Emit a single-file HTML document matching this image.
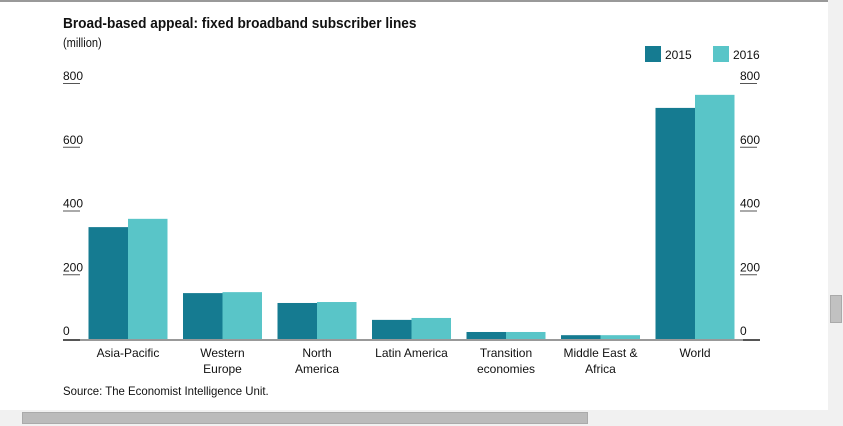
<!DOCTYPE html>
<html><head><meta charset="utf-8"><style>
body{margin:0;width:843px;height:426px;overflow:hidden;background:#fff;font-family:"Liberation Sans Narrow","Liberation Sans",sans-serif;position:relative}
.t{position:absolute;white-space:nowrap;color:#111;transform-origin:0 0}
</style></head><body>
<div style="position:absolute;left:0;top:0;width:828px;height:2px;background:#999"></div>
<div style="position:absolute;left:828px;top:0;width:15px;height:426px;background:#f1f1f1"><div style="position:absolute;left:2px;top:295px;width:10px;height:26px;background:#c1c1c1;border:1px solid #aaa"></div></div>
<div style="position:absolute;left:0;top:410px;width:828px;height:16px;background:#f1f1f1"><div style="position:absolute;left:22px;top:2px;width:564px;height:10px;background:#bbb;border:1px solid #aaa"></div></div>
<div class="t" style="left:63px;top:15px;font-size:15px;font-weight:bold;transform:scaleX(0.91)">Broad-based appeal: fixed broadband subscriber lines</div>
<div class="t" style="left:63px;top:35px;font-size:13px;transform:scaleX(0.85)">(million)</div>
<svg id="c" width="843" height="426" style="position:absolute;left:0;top:0"></svg>
<div class="t" style="left:63px;top:384px;font-size:12px;transform:scaleX(0.95)">Source: The Economist Intelligence Unit.</div>
<script>
const categories=[["Asia-Pacific"],["Western","Europe"],["North","America"],["Latin America"],["Transition","economies"],["Middle East &","Africa"],["World"]];
const values2015=[351,144,113,60,22,12,725];
const values2016=[377,147,116,66,22,12,766];
const ticks=[0,200,400,600,800];
const svg=document.getElementById('c');const NS='http://www.w3.org/2000/svg';
const y0=339,ppu=255/800,xs=80.75,band=94.5,bw=39.5;
const y=v=>y0-v*ppu;
const FF='Liberation Sans Narrow, Liberation Sans, sans-serif';
function mk(t,a){const e=document.createElementNS(NS,t);for(const k in a)e.setAttribute(k,a[k]);svg.appendChild(e);return e;}
ticks.forEach(v=>{
 [[63,'tick-label-left'],[740,'tick-label-right']].forEach(([x,n])=>{
  const t=mk('text',{x:x,y:y(v)-4,'font-size':12,fill:'#111','font-family':FF});t.textContent=v;
  
  
  const u=mk('rect',{x:x,y:y(v)-1,width:v===0?0:17,height:1,fill:'#555'});
  
  
 });
});
categories.forEach((c,i)=>{
 const cx=xs+band*(i+0.5);
 const a=mk('rect',{x:cx-bw,y:y(values2015[i]),width:bw,height:values2015[i]*ppu,fill:'#157b91'});
 
 
 const b=mk('rect',{x:cx,y:y(values2016[i]),width:bw,height:values2016[i]*ppu,fill:'#59c5c8'});
 
 
 c.forEach((l,j)=>{const t=mk('text',{x:cx,y:357+j*16,'font-size':12,'text-anchor':'middle',fill:'#111','font-family':FF});t.textContent=l;
 
 });
});
const ax=mk('rect',{x:63,y:y0,width:697,height:2,fill:'#999'});


[[63,'axis-end-left'],[743,'axis-end-right']].forEach(([x,n])=>{const r=mk('rect',{x:x,y:y0,width:17,height:2,fill:'#555'});

});
[[645,'#157b91','2015'],[713,'#59c5c8','2016']].forEach(([x,c,l])=>{
 const r=mk('rect',{x:x,y:46,width:16,height:16,fill:c});
 
 
 const t=mk('text',{x:x+20,y:59,'font-size':12,fill:'#111','font-family':FF});t.textContent=l;
 
 
});
</script>
</body></html>
